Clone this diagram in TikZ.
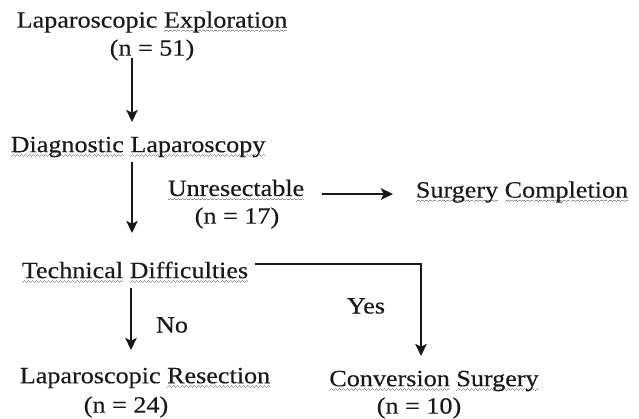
\documentclass[tikz,border=0pt]{standalone}
\usepackage{fontspec}
\setmainfont[FakeStretch=1.12,FakeBold=0.3]{Liberation Serif}
\usetikzlibrary{arrows.meta}
\definecolor{sqcol}{gray}{0.6}
\definecolor{txt}{gray}{0.1}
\newsavebox\sqbox
\newcommand\wavepiece{\hbox{\rule[-3.2pt]{0.75pt}{0.55pt}\rule[-2.7pt]{0.75pt}{0.55pt}\rule[-2.2pt]{0.75pt}{0.55pt}\rule[-2.7pt]{0.75pt}{0.55pt}}}
\newcommand\sqw[1]{\sbox\sqbox{#1}\rlap{\color{sqcol}\hbox to\wd\sqbox{\xleaders\wavepiece\hfill}}\usebox\sqbox}
\begin{document}
\begin{tikzpicture}[x=0.75pt,y=-0.75pt,
  lbl/.style={inner sep=0pt,font=\fontsize{17.5}{20}\selectfont,anchor=center,text=txt},
  arr/.style={line width=2.1pt,draw=txt,-{Stealth[length=9pt,width=8.5pt,inset=2pt]}}]
\useasboundingbox (0,0) rectangle (639,418);
\node[lbl] (le) at (152,22) {Laparoscopic \sqw{Exploration}};
\node[lbl] (n51) at (152,50) {(n = 51)};
\node[lbl] (dl) at (138,147) {\sqw{Diagnostic} \sqw{Laparoscopy}};
\node[lbl] (un) at (236,190) {\sqw{Unresectable}};
\node[lbl] (n17) at (237,218) {(n = 17)};
\node[lbl] (sc) at (522,192) {\sqw{Surgery} \sqw{Completion}};
\node[lbl] (td) at (135,272) {\sqw{Technical} \sqw{Difficulties}};
\node[lbl] (yes) at (366,306) {Yes};
\node[lbl] (no) at (172,325) {No};
\node[lbl] (lr) at (145,378) {Laparoscopic \sqw{Resection}};
\node[lbl] (n24) at (126,407) {(n = 24)};
\node[lbl] (cs) at (434,381) {\sqw{Conversion} \sqw{Surgery}};
\node[lbl] (n10) at (419,408) {(n = 10)};
\coordinate (a1s) at (132,58);
\coordinate (a1e) at (132,122);
\coordinate (a2s) at (132,162);
\coordinate (a2e) at (132,233);
\coordinate (hs) at (322,194);
\coordinate (he) at (393,194);
\coordinate (ts) at (255,264);
\coordinate (tc) at (421,264);
\coordinate (te) at (421,356);
\coordinate (ns) at (131,288);
\coordinate (ne) at (131,350);
\draw[arr] (a1s) -- (a1e);
\draw[arr] (a2s) -- (a2e);
\draw[arr] (hs) -- (he);
\draw[arr] (ts) -- (tc) -- (te);
\draw[arr] (ns) -- (ne);
\end{tikzpicture}
\end{document}
